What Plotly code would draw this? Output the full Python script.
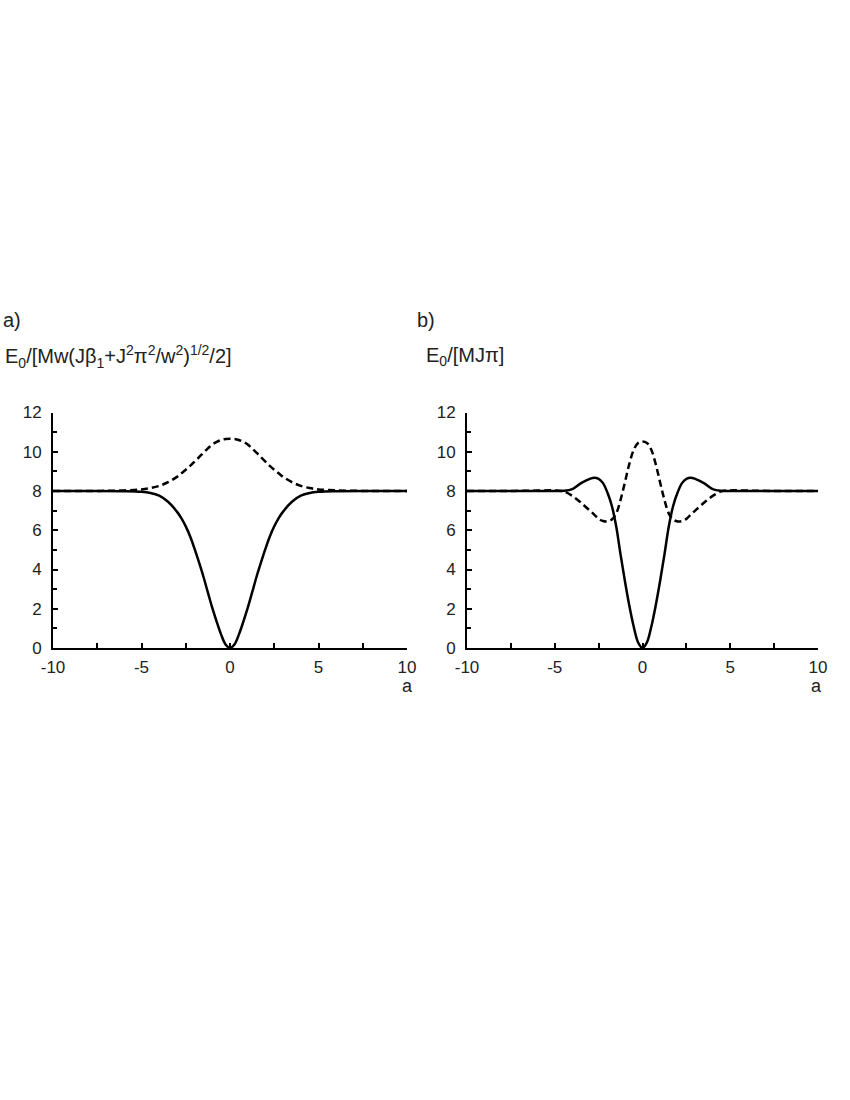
import plotly.graph_objects as go

# values
a_vals = [-10, -8, -6, -5, -4.5, -4, -3.5, -3, -2.75, -2.5, -2.25, -2, -1.75, -1.5, -1.25, -1, -0.75, -0.5, -0.25, 0,
          0.25, 0.5, 0.75, 1, 1.25, 1.5, 1.75, 2, 2.25, 2.5, 2.75, 3, 3.5, 4, 4.5, 5, 6, 8, 10]

a_solid = [8.0, 8.0, 7.99, 7.96, 7.9, 7.76, 7.45, 6.95, 6.62, 6.2, 5.68, 5.05, 4.36, 3.63, 2.83, 2.04, 1.33, 0.68, 0.18, 0.0,
           0.18, 0.68, 1.33, 2.04, 2.83, 3.63, 4.36, 5.05, 5.68, 6.2, 6.62, 6.95, 7.45, 7.76, 7.9, 7.96, 7.99, 8.0, 8.0]
a_dash = [8.0, 8.0, 8.03, 8.08, 8.15, 8.26, 8.45, 8.72, 8.9, 9.08, 9.28, 9.5, 9.72, 9.95, 10.17, 10.37, 10.5, 10.6, 10.65, 10.66,
          10.65, 10.6, 10.5, 10.37, 10.17, 9.95, 9.72, 9.5, 9.28, 9.08, 8.9, 8.72, 8.45, 8.26, 8.15, 8.08, 8.03, 8.0, 8.0]

b_solid = [8.0, 8.0, 8.0, 8.0, 8.01, 8.1, 8.4, 8.62, 8.68, 8.62, 8.4, 7.92, 7.25, 6.2, 4.76, 3.4, 2.15, 1.08, 0.28, 0.0,
           0.28, 1.08, 2.15, 3.4, 4.76, 6.2, 7.25, 7.92, 8.4, 8.62, 8.68, 8.62, 8.4, 8.1, 8.01, 8.0, 8.0, 8.0, 8.0]
b_dash = [8.0, 8.0, 8.02, 8.03, 7.98, 7.75, 7.4, 7.0, 6.8, 6.58, 6.47, 6.45, 6.55, 6.85, 7.55, 8.45, 9.38, 10.1, 10.45, 10.52,
          10.45, 10.1, 9.38, 8.45, 7.55, 6.85, 6.55, 6.45, 6.47, 6.58, 6.8, 7.0, 7.4, 7.75, 7.98, 8.03, 8.02, 8.0, 8.0]

x_ticks = [-10, -5, 0, 5, 10]
y_ticks = [0, 2, 4, 6, 8, 10, 12]

W, H = 850, 1100
font = "Liberation Sans, Arial, sans-serif"


def px_x(x):
    return x / W


def px_y(y):
    return (H - y) / H


fig = go.Figure()

for xa, ya, ys, yd in [("x", "y", a_solid, a_dash), ("x2", "y2", b_solid, b_dash)]:
    fig.add_trace(go.Scatter(x=a_vals, y=yd, xaxis=xa, yaxis=ya, mode="lines", line_shape="spline",
                             line=dict(color="black", width=2.5, dash="7px,4px")))
    fig.add_trace(go.Scatter(x=a_vals, y=ys, xaxis=xa, yaxis=ya, mode="lines", line_shape="spline",
                             line=dict(color="black", width=2.5)))

xstyle = dict(range=[-10, 10], tickvals=x_ticks, ticktext=[str(v) for v in x_ticks], automargin=False,
              showline=True, linecolor="black", linewidth=2, ticks="inside", ticklen=5, tickwidth=1.5,
              tickcolor="black", showgrid=False, zeroline=False, ticklabelstandoff=3,
              minor=dict(ticks="inside", ticklen=5, tickwidth=1.5, tickcolor="black", dtick=2.5, tick0=0),
              tickfont=dict(family=font, size=17, color="#222"))
ystyle = dict(range=[0, 12], tickvals=y_ticks, showline=True, linecolor="black", linewidth=2, automargin=False,
              ticks="inside", ticklen=5, tickwidth=1.5, tickcolor="black", showgrid=False, zeroline=False,
              ticklabelstandoff=6,
              minor=dict(ticks="inside", ticklen=4, tickwidth=1.5, tickcolor="black", dtick=1, tick0=0),
              tickfont=dict(family=font, size=17, color="#222"))

yd = [px_y(648), px_y(412.5)]
fig.update_layout(
    xaxis=dict(domain=[px_x(53), px_x(407)], anchor="y", **xstyle),
    yaxis=dict(domain=yd, anchor="x", **ystyle),
    xaxis2=dict(domain=[px_x(467), px_x(818)], anchor="y2", **xstyle),
    yaxis2=dict(domain=yd, anchor="x2", **ystyle),
    width=W, height=H, margin=dict(l=0, r=0, t=0, b=0),
    paper_bgcolor="white", plot_bgcolor="white", showlegend=False,
    font=dict(family=font, color="#222"),
)


def label(text, x, y, xanchor="left", size=20):
    fig.add_annotation(text=text, x=px_x(x), y=px_y(y), xref="paper", yref="paper",
                       xanchor=xanchor, yanchor="middle", showarrow=False,
                       font=dict(family=font, size=size, color="#222"))


label("a)", 1, 320)
label("b)", 415, 320)
label("E<sub>0</sub>/[Mw(Jβ<sub>1</sub>+J<sup>2</sup>π<sup>2</sup>/w<sup>2</sup>)<sup>1/2</sup>/2]", 3, 356)
label("E<sub>0</sub>/[MJπ]", 424, 356)
label("a", 407, 686, xanchor="center", size=18)
label("a", 816, 686, xanchor="center", size=18)

# drop the default 8px page margin so the figure fills the window
fig.write_html("out.html", config={"displayModeBar": False},
               post_script="document.body.style.margin='0';")
